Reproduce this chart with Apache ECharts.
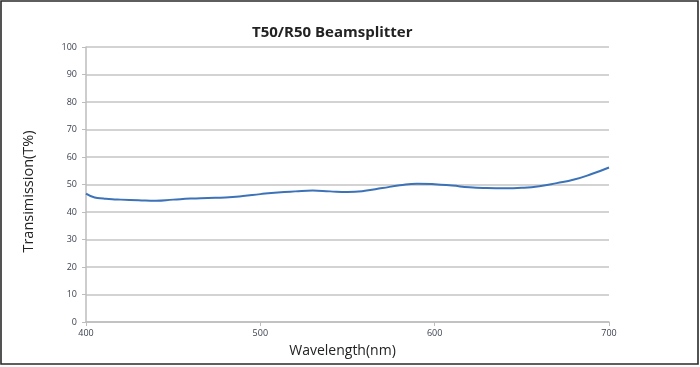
<!DOCTYPE html>
<html>
<head>
<meta charset="utf-8">
<script src="https://cdn.jsdelivr.net/npm/echarts@6/dist/echarts.min.js"></script>
<style>
html,body{margin:0;padding:0;background:#fff;}
#chart{width:700px;height:367px;}
</style>
</head>
<body>
<div id="chart"></div>
<script>
const wavelengths = [400,405,410,415,420,430,440,450,460,470,480,490,500,510,520,530,540,550,560,570,580,590,600,610,620,630,640,650,660,670,680,690,700];
const transmission = [46.7,45.3,44.9,44.6,44.5,44.3,44.1,44.5,44.9,45.1,45.3,45.8,46.5,47.1,47.5,47.8,47.5,47.3,47.7,48.7,49.7,50.3,50.1,49.6,49.0,48.7,48.6,48.8,49.4,50.5,51.8,53.8,56.2];
const yTicks = [0,10,20,30,40,50,60,70,80,90,100];
const xTicks = [400,500,600,700];

const chart = echarts.init(document.getElementById('chart'));
const labelColor = '#3a3f4f';
chart.setOption({
  animation: false,
  backgroundColor: '#fff',
  title: {
    text: 'T50/R50 Beamsplitter',
    left: 247, top: 20,
    textStyle: {fontFamily: 'Open Sans', fontWeight: 'bold', fontSize: 15, color: '#222'}
  },
  graphic: [{
    type: 'rect', silent: true,
    shape: {x: 1, y: 1, width: 697, height: 363},
    style: {fill: 'none', stroke: '#2a2a2a', lineWidth: 1.6}
  }],
  grid: {left: 86, right: 91, top: 47, bottom: 45},
  xAxis: {
    type: 'value', min: xTicks[0], max: xTicks[xTicks.length-1], interval: 100,
    name: 'Wavelength(nm)', nameLocation: 'middle', nameGap: 22,
    nameTextStyle: {fontFamily: 'Open Sans', fontSize: 14, color: '#222', padding: [0, 10, 0, 0]},
    axisLine: {lineStyle: {color: '#bdbdbd', width: 1.5}},
    axisTick: {show: true, length: 4, lineStyle: {color: '#bdbdbd'}},
    axisLabel: {fontFamily: 'Open Sans', fontSize: 9, color: labelColor, margin: 7},
    splitLine: {show: false}
  },
  yAxis: {
    type: 'value', min: yTicks[0], max: yTicks[yTicks.length-1], interval: 10,
    name: 'Transimission(T%)', nameLocation: 'middle', nameGap: 50,
    nameTextStyle: {fontFamily: 'Open Sans', fontSize: 14.5, color: '#222', padding: [0, 14, 0, 0]},
    axisLine: {show: true, lineStyle: {color: '#bdbdbd', width: 1.5}},
    axisTick: {show: true, length: 4, lineStyle: {color: '#bdbdbd'}},
    axisLabel: {fontFamily: 'Open Sans', fontSize: 9, color: labelColor, margin: 9},
    splitLine: {lineStyle: {color: '#c4c4c4', width: 1.5}}
  },
  series: [{
    type: 'line',
    data: wavelengths.map((w, i) => [w, transmission[i]]),
    smooth: true, showSymbol: false,
    lineStyle: {color: '#3c72b8', width: 2}
  }]
});
</script>
</body>
</html>
